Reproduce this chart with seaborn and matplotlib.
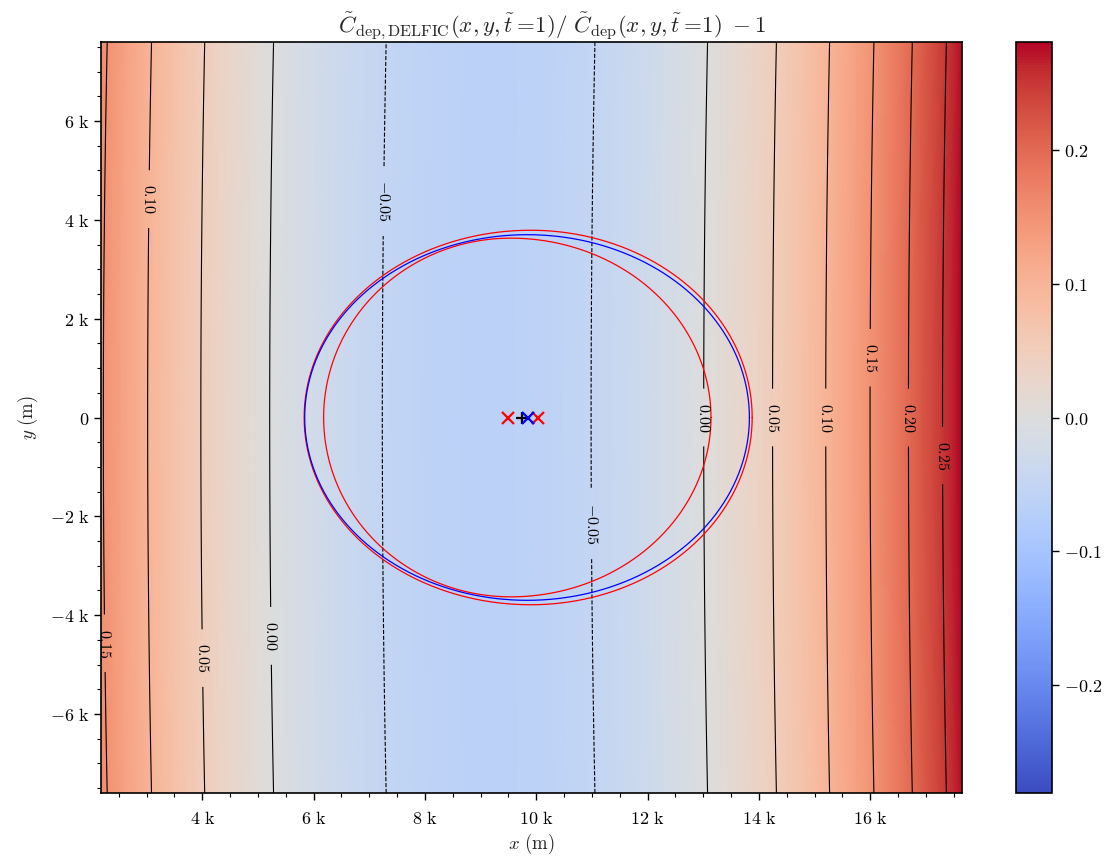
import numpy as np
import matplotlib
matplotlib.use("Agg")
import matplotlib.pyplot as plt
from matplotlib.ticker import FuncFormatter, AutoMinorLocator, MultipleLocator
import seaborn as sns

sns.set_style("ticks")
plt.rcParams["mathtext.fontset"] = "cm"
plt.rcParams["font.family"] = ["DejaVu Serif"]
plt.rcParams["contour.negative_linestyle"] = "dashed"

# ---- domain (m) ----
x_range = [2180.0, 17650.0]
y_range = [-7600.0, 7600.0]

# ---- ratio field model: r(x, y) = -m + c*d^2 + q*d^4, d = x - xmin(y) (km) ----
x_min_km = 9.11          # x of the minimum at y = 0
x_min_drift = 0.0012     # xmin(y) = x_min_km + x_min_drift * y^2
offset_m = 0.0646
coef_c = 0.00412
coef_q = 8.5e-6

# ---- contour levels and label anchor points (m) ----
levels = [-0.05, 0.0, 0.05, 0.10, 0.15, 0.20, 0.25]
label_points = [
    (3030, 4420), (7270, 4380), (2240, -4570), (4000, -4870), (5190, -4420),
    (10970, -2160), (13000, 0), (14260, 0), (15220, 0), (16010, 1210),
    (16720, 0), (17320, -770),
]

# ---- footprint outlines: centre x, left semi-axis, right semi-axis, semi-axis y (m) ----
outline_names = ["outer", "inner", "fit"]
outline_xc = [9900, 9540, 9840]
outline_aL = [4070, 3360, 4000]
outline_aR = [3980, 3600, 3990]
outline_b = [3790, 3630, 3700]
outline_colors = ["red", "red", "blue"]

# ---- centre markers (m) ----
red_x = [9490, 10030]
plus_x = [9740]
blue_x = [9850]

# build grid
xs = np.linspace(x_range[0], x_range[1], 500)
ys = np.linspace(y_range[0], y_range[1], 500)
X, Y = np.meshgrid(xs, ys)
Xk, Yk = X / 1000.0, Y / 1000.0
D = Xk - (x_min_km + x_min_drift * Yk ** 2)
Z = -offset_m + coef_c * D ** 2 + coef_q * D ** 4
vmax = np.abs(Z).max()

fig = plt.figure(figsize=(11.16, 8.63), dpi=100)
ax = fig.add_axes([101 / 1116, 1 - 793 / 863, 861 / 1116, 751 / 863])
cax = fig.add_axes([1016 / 1116, 1 - 793 / 863, 36 / 1116, 751 / 863])

cmap = sns.color_palette("coolwarm", as_cmap=True)
mesh = ax.pcolormesh(X, Y, Z, cmap=cmap, vmin=-vmax, vmax=vmax, shading="gouraud",
                     rasterized=True)

cs = ax.contour(X, Y, Z, levels=levels, colors="black", linewidths=0.8)
texts = ax.clabel(cs, fmt=lambda v: f"${v:.2f}$", fontsize=11.5, inline=True,
                  inline_spacing=14, manual=label_points)
for tx in texts:
    tx.set_rotation(270)

t = np.linspace(0, 2 * np.pi, 721)
for xc, aL, aR, b, col in zip(outline_xc, outline_aL, outline_aR, outline_b, outline_colors):
    a = np.where(np.cos(t) >= 0, aR, aL)
    ax.plot(xc + a * np.cos(t), b * np.sin(t), color=col, lw=0.9)

ax.plot(red_x, [0] * len(red_x), ls="none", marker="x", color="red", ms=9, mew=1.6)
ax.plot(plus_x, [0] * len(plus_x), ls="none", marker="+", color="black", ms=9, mew=1.6)
ax.plot(blue_x, [0] * len(blue_x), ls="none", marker="x", color="blue", ms=9, mew=1.6)

ax.set_xlim(*x_range)
ax.set_ylim(*y_range)


def kfmt(v, pos):
    if abs(v) < 1e-9:
        return r"$0$"
    return rf"${v / 1000:.0f}\ \mathrm{{k}}$"


ax.xaxis.set_major_locator(MultipleLocator(2000))
ax.yaxis.set_major_locator(MultipleLocator(2000))
ax.xaxis.set_minor_locator(AutoMinorLocator(4))
ax.yaxis.set_minor_locator(AutoMinorLocator(4))
ax.xaxis.set_major_formatter(FuncFormatter(kfmt))
ax.yaxis.set_major_formatter(FuncFormatter(kfmt))
ax.tick_params(which="major", direction="out", length=5, width=1, labelsize=13, colors="black")
ax.tick_params(which="minor", direction="out", length=3, width=0.8, colors="black")
ax.tick_params(axis="x", which="major", pad=7)
for s in ax.spines.values():
    s.set_color("black")
    s.set_linewidth(1.2)

ax.set_xlabel(r"$x\ (\mathrm{m})$", fontsize=13.5, labelpad=3)
ax.set_ylabel(r"$y\ (\mathrm{m})$", fontsize=13.5, labelpad=7)
ax.set_title(r"$\tilde{C}_{\mathrm{dep,DELFIC}}(x,y,\tilde{t}=\!1)/\ \tilde{C}_{\mathrm{dep}}(x,y,\tilde{t}=\!1)\ -1$",
             fontsize=16.5, pad=6, x=0.524)

cb = fig.colorbar(mesh, cax=cax)
cb.set_ticks([-0.2, -0.1, 0.0, 0.1, 0.2])
cb.ax.yaxis.set_major_formatter(FuncFormatter(lambda v, p: f"${v:.1f}$"))
cb.ax.tick_params(labelsize=13, length=5, width=1, direction="out", colors="black")
cb.outline.set_edgecolor("black")
cb.outline.set_linewidth(1.2)
cb.ax.minorticks_off()

fig.savefig("out.png", dpi=100)
